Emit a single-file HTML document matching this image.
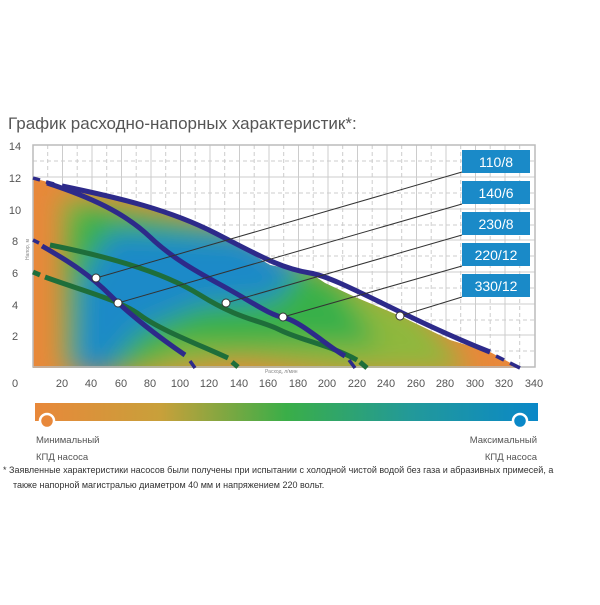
<!DOCTYPE html>
<html><head><meta charset="utf-8"><style>
body{margin:0;background:#fff;width:600px;height:600px;overflow:hidden;font-family:"Liberation Sans",sans-serif}
</style></head><body>
<svg width="600" height="600" viewBox="0 0 600 600" xmlns="http://www.w3.org/2000/svg" font-family="Liberation Sans, sans-serif">
<defs>
<clipPath id="env"><path d="M33,178 L62,186 100,195 140,205 180,218 215,233 240,247 270,265 310,273 325,283 355,297 400,316 450,340 490,352 520,368 L33,368 Z"/></clipPath>
<filter id="bl" x="-50%" y="-50%" width="200%" height="200%"><feGaussianBlur stdDeviation="13"/></filter>
<linearGradient id="bar" x1="0" x2="1"><stop offset="0" stop-color="#e8883a"/><stop offset="0.25" stop-color="#c8a03a"/><stop offset="0.5" stop-color="#3aae48"/><stop offset="0.75" stop-color="#22999a"/><stop offset="1" stop-color="#0a88c8"/></linearGradient>
</defs>
<text x="8" y="129" font-size="17" fill="#555">График расходно-напорных характеристик*:</text>
<rect x="33" y="145" width="502" height="222" fill="#fff"/>
<g stroke="#ccc" stroke-width="1" fill="none">
<path d="M33,145 V367 M62.5,145V367 M92,145V367 M121.5,145V367 M151,145V367 M180.5,145V367 M210,145V367 M239.5,145V367 M269,145V367 M298.5,145V367 M328,145V367 M357.5,145V367 M387,145V367 M416.5,145V367 M446,145V367 M475.5,145V367 M505,145V367 M535,145V367"/>
<path d="M33,145H535 M33,177H535 M33,209H535 M33,240H535 M33,272H535 M33,304H535 M33,335H535 M33,367H535"/>
<path stroke-dasharray="4,3" d="M47.7,145V367 M77.2,145V367 M106.7,145V367 M136.2,145V367 M165.7,145V367 M195.2,145V367 M224.7,145V367 M254.2,145V367 M283.7,145V367 M313.2,145V367 M342.7,145V367 M372.2,145V367 M401.7,145V367 M431.2,145V367 M460.7,145V367 M490.2,145V367 M519.7,145V367 M33,161H535 M33,193H535 M33,225H535 M33,256H535 M33,288H535 M33,320H535 M33,351H535"/>
</g>
<g clip-path="url(#env)">
<rect x="33" y="145" width="503" height="223" fill="#e8883a"/>
<g filter="url(#bl)">
<path d="M62,195 L230,225 420,310 470,372 340,372 240,360 150,372 62,372 62,260 Z" fill="#8fb83e"/>
<path d="M75,205 L240,230 340,285 380,345 280,345 180,345 120,372 70,372 68,260 Z" fill="#38b04a"/>
<path d="M110,232 L245,235 300,266 275,300 200,305 140,330 105,372 75,372 80,285 Z" fill="#1a8ac8"/>
</g>
</g>
<rect x="33" y="145" width="502" height="222" fill="none" stroke="#bbb" stroke-width="1.5"/>
<g stroke="#1e6e3a" stroke-width="5" fill="none" stroke-linecap="butt">
<path d="M50,245 C100,255 160,270 200,295 S260,320 280,330 S330,345 357,360"/>
<path d="M360,362 L367,368" />
<path d="M45,277 C80,290 120,300 140,315 S200,345 228,358"/>
<path d="M33,272 L40,275"/><path d="M232,362 L238,367"/>
</g>
<g stroke="#2d2a8a" stroke-width="5" fill="none">
<path d="M62,186 C120,198 170,210 215,233 S280,268 310,273 S400,316 490,352"/>
<path d="M33,178 L40,180 M46,182 L54,184 M496,356 L504,360 M510,363 L520,368" stroke-width="3.5"/>
<path d="M47,183 C90,197 125,213 150,237 S205,276 230,290 S270,315 285,318 S330,348 345,356"/>
<path d="M349,360 L355,368" stroke-width="3.5"/>
<path d="M42,246 C70,262 90,275 110,295 S160,338 185,355"/>
<path d="M33,240 L39,243 M190,361 L195,368" stroke-width="3.5"/>
</g>
<g stroke="#333" stroke-width="1" fill="none">
<path d="M96,278 L462,172 M118,303 L462,204 M226,303 L462,235 M283,317 L462,266 M400,316 L462,297"/>
</g>
<g fill="#fff" stroke="#333" stroke-width="1">
<circle cx="96" cy="278" r="4"/><circle cx="118" cy="303" r="4"/><circle cx="226" cy="303" r="4"/><circle cx="283" cy="317" r="4"/><circle cx="400" cy="316" r="4"/>
</g>
<g fill="#1a8ac8">
<rect x="462" y="150" width="68" height="23"/><rect x="462" y="181" width="68" height="23"/><rect x="462" y="212" width="68" height="23"/><rect x="462" y="243" width="68" height="23"/><rect x="462" y="274" width="68" height="23"/>
</g>
<g fill="#fff" font-size="14" text-anchor="middle">
<text x="496" y="167">110/8</text><text x="496" y="198">140/6</text><text x="496" y="229">230/8</text><text x="496" y="260">220/12</text><text x="496" y="291">330/12</text>
</g>
<g fill="#555" font-size="11" text-anchor="middle">
<text x="15" y="150">14</text><text x="15" y="182">12</text><text x="15" y="214">10</text><text x="15" y="245">8</text><text x="15" y="277">6</text><text x="15" y="309">4</text><text x="15" y="340">2</text>
<text x="15" y="387">0</text><text x="62" y="387">20</text><text x="91" y="387">40</text><text x="121" y="387">60</text><text x="150" y="387">80</text><text x="180" y="387">100</text><text x="209" y="387">120</text><text x="239" y="387">140</text><text x="268" y="387">160</text><text x="298" y="387">180</text><text x="327" y="387">200</text><text x="357" y="387">220</text><text x="386" y="387">240</text><text x="416" y="387">260</text><text x="445" y="387">280</text><text x="475" y="387">300</text><text x="504" y="387">320</text><text x="534" y="387">340</text>
</g>
<text x="265" y="373" font-size="5" fill="#888">Расход, л/мин</text>
<text transform="translate(29,260) rotate(-90)" font-size="5" fill="#888">Напор, м</text>
<rect x="35" y="403" width="503" height="18" fill="url(#bar)"/>
<circle cx="47" cy="421" r="7" fill="#e8883a" stroke="#fff" stroke-width="2.5"/>
<circle cx="520" cy="421" r="7" fill="#0a88c8" stroke="#fff" stroke-width="2.5"/>
<g fill="#555" font-size="9.5">
<text x="36" y="443">Минимальный</text><text x="36" y="460">КПД насоса</text>
<text x="537" y="443" text-anchor="end">Максимальный</text><text x="537" y="460" text-anchor="end">КПД насоса</text>
</g>
<g fill="#333" font-size="9">
<text x="3" y="473">* Заявленные характеристики насосов были получены при испытании с холодной чистой водой без газа и абразивных примесей, а</text>
<text x="13" y="488">также напорной магистралью диаметром 40 мм и напряжением 220 вольт.</text>
</g>
</svg>
</body></html>
